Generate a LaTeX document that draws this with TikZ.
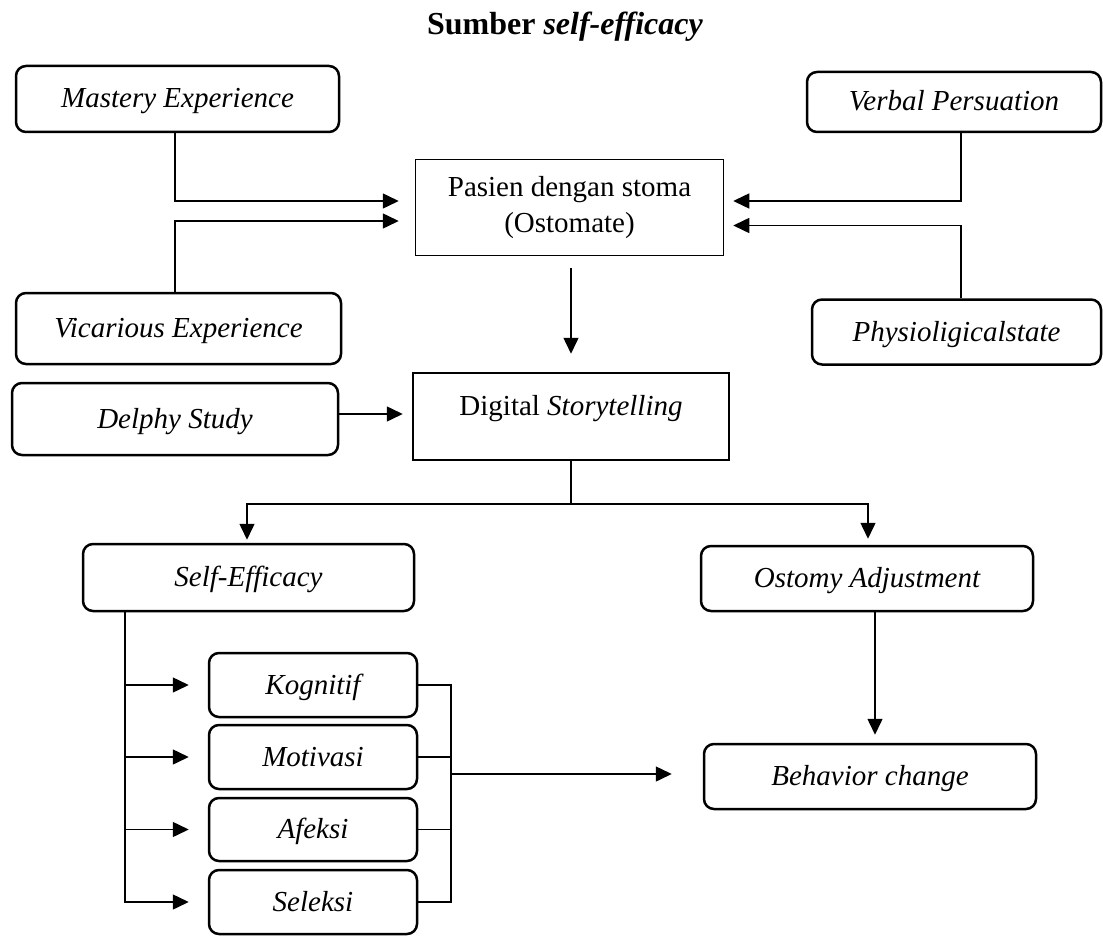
\documentclass[tikz,border=0pt]{standalone}
\usepackage{fontspec}
\setmainfont{Liberation Serif}
\usetikzlibrary{arrows.meta}
\begin{document}
\begin{tikzpicture}[x=1pt,y=-1pt,
  rbox/.style={draw, line width=2.5pt, rounded corners=10pt, inner sep=0pt,
    font=\itshape\fontsize{29}{36}\selectfont, text height=18pt, text depth=0pt},
  sbox/.style={draw, inner sep=0pt, font=\fontsize{29}{36}\selectfont},
  line/.style={line width=1.5pt},
  conn/.style={line width=1.5pt, -{Triangle[length=16pt,width=15pt]}}]
\useasboundingbox (0,0) rectangle (1103,936);

\node[font=\bfseries\fontsize{32}{38}\selectfont, anchor=base] (title) at (565,35) {Sumber \textit{self-efficacy}};

\node[rbox, minimum width=323pt, minimum height=66pt] (mastery) at (177.5,99) {Mastery Experience};
\node[rbox, minimum width=294pt, minimum height=60pt] (verbal) at (954,102) {Verbal Persuation};
\node[sbox, line width=1.5pt, minimum width=308pt, minimum height=96pt, align=center] (pasien) at (569.5,207.5) {Pasien dengan stoma\\(Ostomate)};
\node[rbox, minimum width=325pt, minimum height=71pt] (vicarious) at (178.5,328.5) {Vicarious Experience};
\node[rbox, minimum width=289pt, minimum height=65pt] (physio) at (956.5,332) {Physioligicalstate};
\node[rbox, minimum width=326pt, minimum height=72pt] (delphy) at (175,419) {Delphy Study};
\node[sbox, line width=2.5pt, minimum width=316pt, minimum height=87pt, text height=8pt, text depth=11pt] (digital) at (571,416.5) {Digital \textit{Storytelling}};
\node[rbox, minimum width=331pt, minimum height=67pt] (selfeff) at (248.5,577.5) {Self-Efficacy};
\node[rbox, minimum width=332pt, minimum height=65pt] (ostomy) at (867,578.5) {Ostomy Adjustment};
\node[rbox, minimum width=208pt, minimum height=64pt] (kognitif) at (313,685) {Kognitif};
\node[rbox, minimum width=208pt, minimum height=64pt] (motivasi) at (313,757) {Motivasi};
\node[rbox, minimum width=208pt, minimum height=63pt] (afeksi) at (313,829.5) {Afeksi};
\node[rbox, minimum width=208pt, minimum height=64pt] (seleksi) at (313,902) {Seleksi};
\node[rbox, minimum width=332pt, minimum height=65pt] (behavior) at (870,776.5) {Behavior change};

% sources -> pasien
\draw[conn, shorten >=16pt] ([xshift=-2.5pt]mastery.south) |- ([yshift=6.5pt]pasien.west);
\draw[conn, shorten >=16pt] ([xshift=-3.5pt]vicarious.north) |- ([yshift=-13.5pt]pasien.west);
\draw[conn, shorten >=9pt] ([xshift=7pt]verbal.south) |- ([yshift=6.5pt]pasien.east);
\draw[conn, shorten >=9pt] ([xshift=4.5pt]physio.north) |- ([yshift=-18pt]pasien.east);

% pasien -> digital
\draw[conn, shorten <=12pt, shorten >=18pt] ([xshift=1.5pt]pasien.south) -- ([xshift=1.5pt]pasien.south |- digital.north);
\draw[conn, shorten >=9pt] ([yshift=5pt]delphy.east) -- ([yshift=5pt]delphy.east -| digital.west);

% digital -> selfeff / ostomy
\coordinate (split) at (571,504);
\draw[line] (digital.south) -- (split);
\draw[conn, shorten >=3pt] (split) -| ([xshift=-1.5pt]selfeff.north);
\draw[conn, shorten >=6pt] (split) -| ([xshift=1pt]ostomy.north);

% selfeff -> four aspects
\coordinate (sebar) at ([xshift=43pt]selfeff.south west);
\foreach \n in {kognitif,motivasi,afeksi,seleksi}
  \draw[conn, shorten >=19pt] (sebar) |- (\n.west);

% four aspects -> behavior
\coordinate (bus) at (451,774);
\draw[line] (kognitif.east) -| (bus);
\draw[line] (seleksi.east) -| (bus);
\draw[line] (motivasi.east) -- (motivasi.east -| bus);
\draw[line] (afeksi.east) -- (afeksi.east -| bus);
\draw[conn, shorten >=31pt] (bus) -- (bus -| behavior.west);

% ostomy -> behavior
\draw[conn, shorten >=8pt] ([xshift=8pt]ostomy.south) -- ([xshift=8pt]ostomy.south |- behavior.north);
\end{tikzpicture}
\end{document}
